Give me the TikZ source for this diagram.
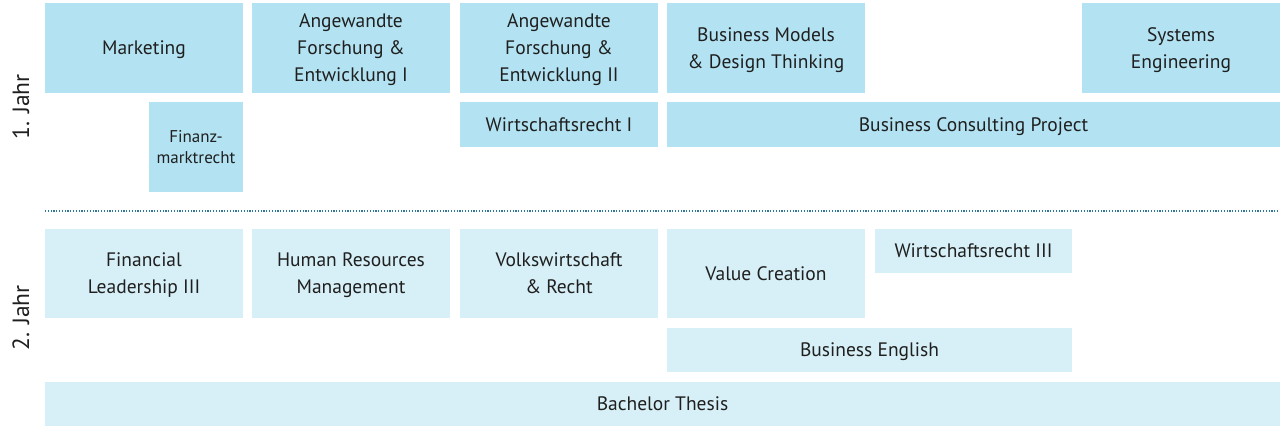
\documentclass[tikz,border=0pt]{standalone}
\usepackage{fontspec}
\setmainfont{PT Sans}
\begin{document}
\begin{tikzpicture}[x=1pt,y=-1pt,
  base/.style={anchor=north west,inner sep=0pt,outer sep=0pt,align=center,text depth=0pt,text=black!88,font=\fontsize{19.5}{27}\selectfont},
  yone/.style={base,fill=cyanA},
  ytwo/.style={base,fill=cyanB},
  yearlabel/.style={rotate=90,inner sep=0pt,text=black!88,font=\fontsize{23.5}{26}\selectfont}]
\definecolor{cyanA}{HTML}{B3E3F2}
\definecolor{cyanB}{HTML}{D7F0F7}
\definecolor{dotline}{HTML}{2C7A98}
\useasboundingbox[fill=white] (0,0) rectangle (1280,430);
% Year 1
\node[yone,minimum width=198pt,minimum height=90pt] (mkt) at (45,3) {Marketing};
\node[yone,minimum width=198pt,minimum height=90pt] (afe1) at (252,3) {Angewandte\\Forschung \&\\Entwicklung I};
\node[yone,minimum width=198pt,minimum height=90pt] (afe2) at (460,3) {Angewandte\\Forschung \&\\Entwicklung II};
\node[yone,minimum width=198pt,minimum height=90pt] (bmdt) at (667,3) {Business Models\\\& Design Thinking};
\node[yone,minimum width=198pt,minimum height=90pt] (syse) at (1082,3) {Systems\\Engineering};
\node[yone,minimum width=94pt,minimum height=90pt,font=\fontsize{17}{21}\selectfont] (fmr) at (149,102) {Finanz-\\marktrecht};
\node[yone,minimum width=198pt,minimum height=45pt] (wr1) at (460,102) {Wirtschaftsrecht I};
\node[yone,minimum width=613pt,minimum height=45pt] (bcp) at (667,102) {Business Consulting Project};
% separator
\coordinate (sepL) at (45,211);
\coordinate (sepR) at (1280,211);
\draw[dotline,line width=1.2pt,dash pattern=on 1.2pt off 1.6pt] (sepL) -- (sepR);
% Year 2
\node[ytwo,minimum width=198pt,minimum height=89pt] (fl3) at (45,229) {Financial\\Leadership III};
\node[ytwo,minimum width=198pt,minimum height=89pt] (hrm) at (252,229) {Human Resources\\Management};
\node[ytwo,minimum width=198pt,minimum height=89pt] (vwr) at (460,229) {Volkswirtschaft\\\& Recht};
\node[ytwo,minimum width=198pt,minimum height=89pt] (vc) at (667,229) {Value Creation};
\node[ytwo,minimum width=197pt,minimum height=44pt] (wr3) at (875,229) {Wirtschaftsrecht III};
\node[ytwo,minimum width=405pt,minimum height=44pt] (be) at (667,328) {Business English};
\node[ytwo,minimum width=1235pt,minimum height=44pt] (bt) at (45,382) {Bachelor Thesis};
% year labels
\node[yearlabel] (j1) at (21,107) {1. Jahr};
\node[yearlabel] (j2) at (21,318) {2. Jahr};
\end{tikzpicture}
\end{document}
